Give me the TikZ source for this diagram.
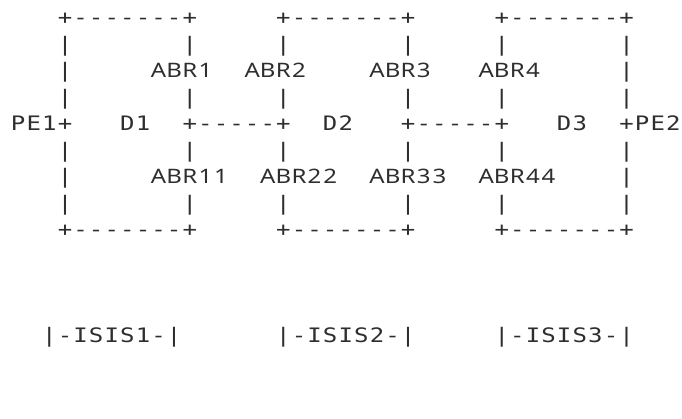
\documentclass[tikz,border=0pt]{standalone}
\usepackage{fontspec}
\usepackage{graphicx}
\newfontfamily\monof{DejaVu Sans Mono}
\newfontfamily\sansf{Noto Sans}
\newlength\cw \setlength\cw{15.6pt}
\makeatletter
\def\cells#1{\scalebox{1}[0.83]{\cells@i#1\relax}}
\def\cells@i#1{\ifx#1\relax\else\makebox[\cw][c]{#1}\expandafter\cells@i\fi}
\makeatother
\newcommand\gt[5][txt]{\node[#1] (#2) at ({-5.2+15.6*#3},{24.8+26.5*#4}) {\cells{#5}};}
\begin{document}
\begin{tikzpicture}[x=1pt,y=-1pt,
  txt/.style={inner sep=0pt, outer sep=0pt, anchor=base west, text=black!82,
    font=\monof\fontsize{24}{24}\selectfont},
  lbl/.style={txt, font=\sansf\fontsize{24}{24}\selectfont}]
\useasboundingbox (0,0) rectangle (682,418);
\fill[white] (0,0) rectangle (682,418);
% row 0: box tops
\gt{top1}{4}{0}{+-------+}
\gt{top2}{18}{0}{+-------+}
\gt{top3}{32}{0}{+-------+}
% rows 1,3,5,7: vertical bars
\foreach \r in {1,3,5,7}{
  \foreach \c in {4,12,18,26,32,40}{\gt{v\r-\c}{\c}{\r}{|}}
}
% row 2
\gt{v2-4}{4}{2}{|}
\gt[lbl]{abr1}{10}{2}{ABR1}
\gt[lbl]{abr2}{16}{2}{ABR2}
\gt[lbl]{abr3}{24}{2}{ABR3}
\gt[lbl]{abr4}{31}{2}{ABR4}
\gt{v2-40}{40}{2}{|}
% row 4
\gt{pe1}{1}{4}{PE1+}
\gt{d1}{8}{4}{D1}
\gt{l12}{12}{4}{+-----+}
\gt{d2}{21}{4}{D2}
\gt{l23}{26}{4}{+-----+}
\gt{d3}{36}{4}{D3}
\gt{pe2}{40}{4}{+PE2}
% row 6
\gt{v6-4}{4}{6}{|}
\gt[lbl]{abr11}{10}{6}{ABR11}
\gt[lbl]{abr22}{17}{6}{ABR22}
\gt[lbl]{abr33}{24}{6}{ABR33}
\gt[lbl]{abr44}{31}{6}{ABR44}
\gt{v6-40}{40}{6}{|}
% row 8: box bottoms
\gt{bot1}{4}{8}{+-------+}
\gt{bot2}{18}{8}{+-------+}
\gt{bot3}{32}{8}{+-------+}
% row 12: ISIS spans
\gt{isis1}{3}{12}{|-ISIS1-|}
\gt{isis2}{18}{12}{|-ISIS2-|}
\gt{isis3}{32}{12}{|-ISIS3-|}
\end{tikzpicture}
\end{document}
